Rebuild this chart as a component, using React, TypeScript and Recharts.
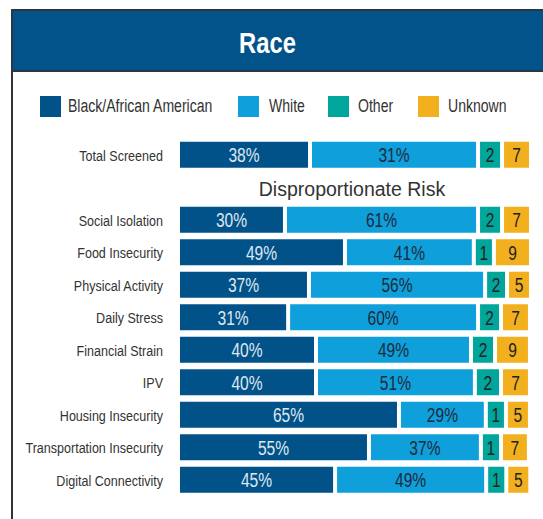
import React from "react";
import { Bar, BarChart, LabelList, XAxis, YAxis } from "recharts";

const SANS = '"Liberation Sans", Arial, sans-serif';
const SQUEEZE = 0.82; // Arial Narrow-like width
const GAP = 4;

// row names (the blank row after Total Screened holds the "Disproportionate Risk" heading)
const categories = [
    "Total Screened",
    "Social Isolation",
    "Food Insecurity",
    "Physical Activity",
    "Daily Stress",
    "Financial Strain",
    "IPV",
    "Housing Insecurity",
    "Transportation Insecurity",
    "Digital Connectivity",
];

// printed labels
const blackLabels = ["38%", "30%", "49%", "37%", "31%", "40%", "40%", "65%", "55%", "45%"];
const whiteLabels = ["31%", "61%", "41%", "56%", "60%", "49%", "51%", "29%", "37%", "49%"];
const otherLabels = ["2", "2", "1", "2", "2", "2", "2", "1", "1", "1"];
const unknownLabels = ["7", "7", "9", "5", "7", "9", "7", "5", "7", "5"];

// segment lengths as share of the bar track
const blackWidths = [37.4, 30.3, 47.3, 37.1, 31.2, 39.1, 39.1, 62.6, 54.1, 44.5];
const whiteWidths = [47.6, 54.7, 36.5, 49.9, 53.8, 43.9, 45.0, 24.6, 31.7, 42.8];
const otherWidths = [6.8, 6.8, 5.7, 6.2, 6.5, 6.8, 7.4, 5.7, 5.7, 5.7];
const unknownWidths = [8.2, 8.2, 10.5, 6.8, 8.2, 9.9, 8.2, 6.8, 7.9, 6.8];

const series = [
    { key: "black", name: "Black/African American", color: "#02528a", text: "#dfe7ef" },
    { key: "white", name: "White", color: "#0f9fdb", text: "#1e2b3c" },
    { key: "other", name: "Other", color: "#00a59c", text: "#222" },
    { key: "unknown", name: "Unknown", color: "#f2b01e", text: "#222" },
];

const rows = categories.map((name, i) => ({
    name,
    black: blackWidths[i],
    white: whiteWidths[i],
    other: otherWidths[i],
    unknown: unknownWidths[i],
    blackLabel: blackLabels[i],
    whiteLabel: whiteLabels[i],
    otherLabel: otherLabels[i],
    unknownLabel: unknownLabels[i],
}));

const data = [rows[0], { name: " " }, ...rows.slice(1)];

const GapBar = (props: any) => {
    const { x, y, width, height, fill } = props;
    if (!width || width <= GAP) return <g />;
    return <rect x={x} y={y} width={width - GAP} height={height} fill={fill} />;
};

const makeLabel = (color: string) => (props: any) => {
    const { x, y, width, height, value } = props;
    if (value === undefined || value === null || value === "") return null;
    const cx = Number(x) + (Number(width) - GAP) / 2;
    const cy = Number(y) + Number(height) / 2;
    return (
        <text
            transform={`translate(${cx},${cy}) scale(0.76,1)`}
            dy="0.36em"
            textAnchor="middle"
            fill={color}
            fontSize={20.5}
            fontFamily={SANS}
        >
            {value}
        </text>
    );
};

const CategoryTick = (props: any) => {
    const { x, y, payload } = props;
    return (
        <text
            transform={`translate(${x},${y}) scale(${SQUEEZE},1)`}
            dy="0.36em"
            textAnchor="end"
            fill="#333"
            fontSize={15.3}
            fontFamily={SANS}
        >
            {payload.value}
        </text>
    );
};

const legendPos = [
    { box: 40, text: 68 },
    { box: 238, text: 269 },
    { box: 328, text: 358 },
    { box: 418, text: 448 },
];

export default function App() {
    return (
        <div style={{ position: "absolute", left: 0, top: 0, width: 543, height: 519, background: "#fff", overflow: "hidden" }}>
            {/* left frame line */}
            <div style={{ position: "absolute", left: 11, top: 9, width: 2, height: 510, background: "#333" }} />
            {/* header */}
            <div
                style={{
                    position: "absolute",
                    left: 11,
                    top: 9,
                    width: 540,
                    height: 59,
                    background: "#02538a",
                    borderTop: "2px solid #2c3640",
                    borderBottom: "2px solid #2c3640",
                    borderLeft: "2px solid #2c3640",
                }}
            />
            <div
                style={{
                    position: "absolute",
                    left: 0,
                    top: 24,
                    width: 535,
                    height: 38,
                    lineHeight: "38px",
                    textAlign: "center",
                    color: "#fff",
                    fontFamily: SANS,
                    fontWeight: "bold",
                    fontSize: 29,
                    transform: `scaleX(${SQUEEZE})`,
                    transformOrigin: "267.5px center",
                }}
            >
                Race
            </div>

            {/* legend */}
            {series.map((s, i) => (
                <React.Fragment key={s.key}>
                    <div style={{ position: "absolute", left: legendPos[i].box, top: 96, width: 21, height: 21, background: s.color }} />
                    <div
                        style={{
                            position: "absolute",
                            left: legendPos[i].text,
                            top: 96,
                            height: 21,
                            lineHeight: "21px",
                            fontSize: 18,
                            fontFamily: SANS,
                            color: "#333",
                            whiteSpace: "nowrap",
                            transform: "scaleX(0.78)",
                            transformOrigin: "left center",
                        }}
                    >
                        {s.name}
                    </div>
                </React.Fragment>
            ))}

            {/* sub heading */}
            <div
                style={{
                    position: "absolute",
                    left: 252,
                    top: 176,
                    width: 200,
                    height: 26,
                    lineHeight: "26px",
                    textAlign: "center",
                    fontSize: 19.5,
                    fontFamily: SANS,
                    color: "#333",
                    whiteSpace: "nowrap",
                }}
            >
                Disproportionate Risk
            </div>

            <div style={{ position: "absolute", left: 0, top: 0 }}>
                <BarChart
                    width={543}
                    height={519}
                    data={data}
                    layout="vertical"
                    barSize={26}
                    margin={{ top: 138.75, right: 10, bottom: 22.75, left: 0 }}
                >
                    <XAxis type="number" domain={[0, 100]} hide />
                    <YAxis
                        type="category"
                        dataKey="name"
                        width={180}
                        axisLine={false}
                        tickLine={false}
                        tickMargin={11}
                        interval={0}
                        tick={<CategoryTick />}
                    />
                    {series.map((s) => (
                        <Bar
                            key={s.key}
                            dataKey={s.key}
                            stackId="race"
                            fill={s.color}
                            shape={GapBar}
                            isAnimationActive={false}
                        >
                            <LabelList dataKey={`${s.key}Label`} content={makeLabel(s.text)} />
                        </Bar>
                    ))}
                </BarChart>
            </div>
        </div>
    );
}
